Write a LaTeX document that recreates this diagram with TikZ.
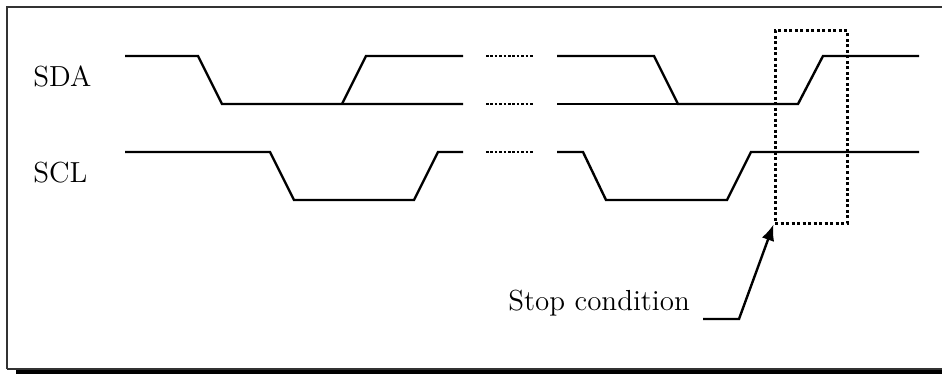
\documentclass[tikz,border=0pt]{standalone}
\usetikzlibrary{arrows.meta}

\tikzset{
  signal/.style   = {line width = 1.2pt, line join = miter},
  gapdots/.style  = {line width = 1.4pt, dash pattern = on 1.3pt off 0.9pt},
  stopbox/.style  = {draw = black, line width = 1.5pt, dash pattern = on 1.5pt off 1.25pt,
                     inner sep = 0pt, minimum width = 36pt, minimum height = 96pt},
  signame/.style  = {anchor = base west, inner sep = 0pt, font = \fontsize{14.5}{16}\selectfont},
}

\begin{document}
\begin{tikzpicture}[x = 0.5pt, y = -0.5pt]
        \useasboundingbox (0, 0) rectangle (942, 374);

        % ------------------------------------------------------------------------
        % Frame
        \fill[black] (16, 369) rectangle (948, 374);
        \draw[line width = 1pt, black!80] (7, 369) -- (7, 7) -- (948, 7);
        \draw[line width = 1pt, black!80] (7, 369) -- (948, 369);

        % ------------------------------------------------------------------------
        % Names
        \node[signame] at (33, 87)  (sda) {SDA};
        \node[signame] at (33, 183) (scl) {SCL};

        % ------------------------------------------------------------------------
        % SDA
        \draw[signal] (125, 56) -- (198, 56) -- (222, 104) -- (463, 104);
        \draw[signal] (342, 104) -- (366, 56) -- (463, 56);
        \draw[signal] (557, 56) -- (654, 56) -- (678, 104) -- (798, 104) -- (823, 56) -- (919, 56);
        \draw[signal] (557, 104) -- (678, 104);

        % ------------------------------------------------------------------------
        % SCL
        \draw[signal] (125, 152) -- (270, 152) -- (294, 200) -- (414, 200) -- (438, 152) -- (463, 152);
        \draw[signal] (557, 152) -- (583, 152) -- (606, 200) -- (727, 200) -- (751, 152) -- (919, 152);

        % ------------------------------------------------------------------------
        % Gap
        \draw[gapdots]
          (486, 56)  -- (533, 56)
          (486, 104) -- (533, 104)
          (486, 152) -- (533, 152)
        ;

        % ------------------------------------------------------------------------
        % Stop condition
        \node[stopbox] at (811, 127) (stop) {};

        \node[signame] at (508, 310) (stoplabel) {Stop condition};

        \coordinate (tail) at (703, 319);
        \coordinate (knee) at (739, 319);

        \draw[signal, -{Latex[length = 8pt, width = 6.5pt]}]
          (tail) -- (knee) -- (stop.south west)
        ;
      \end{tikzpicture}
\end{document}
